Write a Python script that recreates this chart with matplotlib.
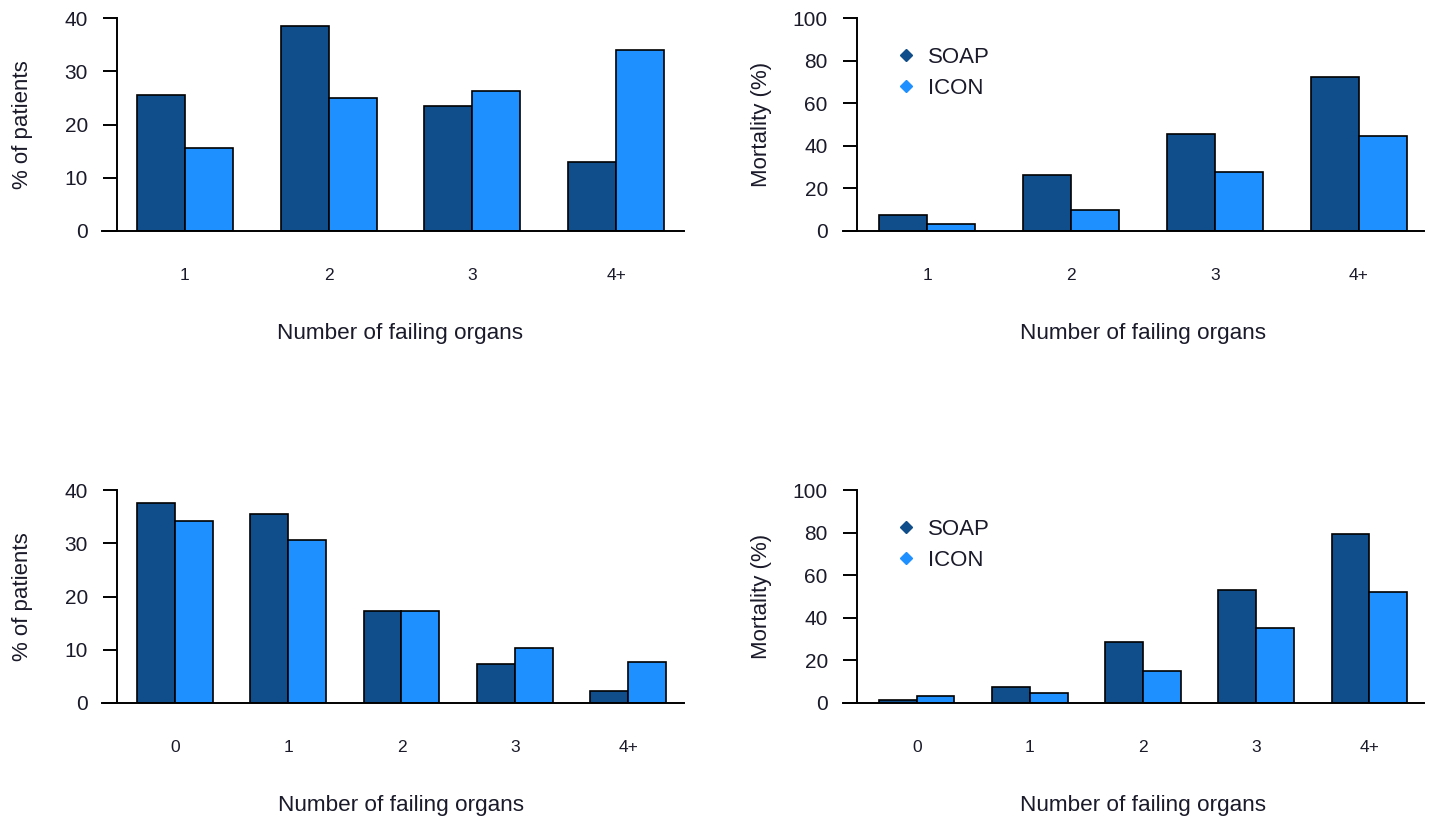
import matplotlib
matplotlib.use("Agg")
import matplotlib.pyplot as plt
from matplotlib.lines import Line2D
import numpy as np

plt.rcParams['font.family'] = ['Liberation Sans', 'DejaVu Sans']

# ---- data ----
cats_top = ["1", "2", "3", "4+"]
cats_bot = ["0", "1", "2", "3", "4+"]

pct_soap_top = [25.5, 38.5, 23.5, 13.0]
pct_icon_top = [15.6, 25.0, 26.3, 34.0]
mort_soap_top = [7.5, 26.5, 45.5, 72.5]
mort_icon_top = [3.5, 10.0, 27.5, 44.5]

pct_soap_bot = [37.6, 35.4, 17.3, 7.4, 2.2]
pct_icon_bot = [34.1, 30.7, 17.3, 10.3, 7.7]
mort_soap_bot = [1.5, 7.5, 28.5, 53.0, 79.5]
mort_icon_bot = [3.5, 4.5, 15.0, 35.0, 52.0]

series_names = ["SOAP", "ICON"]
yticks_pct = [0, 10, 20, 30, 40]
yticks_mort = [0, 20, 40, 60, 80, 100]

C_SOAP = "#104E8B"
C_ICON = "#1E90FF"
TXT = "#1a1a2a"

W, H = 1429, 818
fig = plt.figure(figsize=(W / 100, H / 100), dpi=100)


def make_panel(px_left, px_right, px_top, px_bot, bar_start, bar_end, spine_px,
               cats, soap, icon, ymax, yticks, ylabel, ylabel_x, legend=False):
    ax = fig.add_axes([px_left / W, 1 - px_bot / H, (px_right - px_left) / W,
                       (px_bot - px_top) / H])
    n = len(cats)
    nunits = 3 * n - 1
    unit = (bar_end - bar_start) / nunits
    # R style barplot: space c(0,1), first bar starts at x=1
    xmin = 1 - (bar_start - px_left) / unit
    xmax = 1 + (px_right - bar_start) / unit
    xs = 1 + 3 * np.arange(n)
    ax.bar(xs, soap, width=1, align='edge', color=C_SOAP, edgecolor='black', linewidth=1.2)
    ax.bar(xs + 1, icon, width=1, align='edge', color=C_ICON, edgecolor='black', linewidth=1.2)
    ax.set_xlim(xmin, xmax)
    ax.set_ylim(0, ymax)
    for s in ['top', 'right']:
        ax.spines[s].set_visible(False)
    ax.spines['bottom'].set_linewidth(1.4)
    spine_x = 1 - (bar_start - spine_px) / unit
    ax.spines['left'].set_position(('data', spine_x))
    ax.spines['left'].set_bounds(0, ymax)
    ax.spines['left'].set_linewidth(1.4)
    ax.set_yticks(yticks)
    ax.set_yticklabels([str(t) for t in yticks])
    ax.tick_params(axis='y', length=10, width=1.4, pad=11, labelsize=15, labelcolor=TXT)
    ax.set_xticks(xs + 1)
    ax.set_xticklabels(cats)
    ax.tick_params(axis='x', length=0, pad=27, labelsize=12.5, labelcolor=TXT)
    ax.set_xlabel("Number of failing organs", fontsize=16.2, color=TXT)
    cx = ((bar_start + bar_end) / 2 - px_left) / (px_right - px_left)
    ax.xaxis.set_label_coords(cx, -(102) / (px_bot - px_top))
    ax.xaxis.label.set_va('center')
    ax.set_ylabel(ylabel, fontsize=16, color=TXT)
    ax.yaxis.set_label_coords((ylabel_x - px_left) / (px_right - px_left), 0.5)
    ax.yaxis.label.set_va('center')
    if legend:
        handles = [Line2D([], [], marker='D', linestyle='none', color=C_SOAP, markersize=6),
                   Line2D([], [], marker='D', linestyle='none', color=C_ICON, markersize=6)]
        fs = 16
        fpx = fs * 100 / 72
        top_px = px_top + 41 - fpx * 0.55
        left_px = 906 - fpx * 0.5
        ax.legend(handles, series_names, loc='upper left', frameon=False,
                  bbox_to_anchor=((left_px - px_left) / (px_right - px_left),
                                  (px_bot - top_px) / (px_bot - px_top)),
                  borderpad=0, borderaxespad=0, handlelength=1.0, handletextpad=0.5,
                  labelspacing=0.45, fontsize=fs, labelcolor=TXT)
    return ax


make_panel(102, 684, 18, 231, 137, 664, 117, cats_top, pct_soap_top, pct_icon_top,
           40, yticks_pct, "% of patients", 22)
make_panel(843, 1424, 18, 231, 879, 1407, 857, cats_top, mort_soap_top, mort_icon_top,
           100, yticks_mort, "Mortality (%)", 762, legend=True)
make_panel(102, 684, 490, 703, 137, 666, 117, cats_bot, pct_soap_bot, pct_icon_bot,
           40, yticks_pct, "% of patients", 22)
make_panel(843, 1424, 490, 703, 879, 1407, 857, cats_bot, mort_soap_bot, mort_icon_bot,
           100, yticks_mort, "Mortality (%)", 762, legend=True)

fig.savefig("out.png", dpi=100)
